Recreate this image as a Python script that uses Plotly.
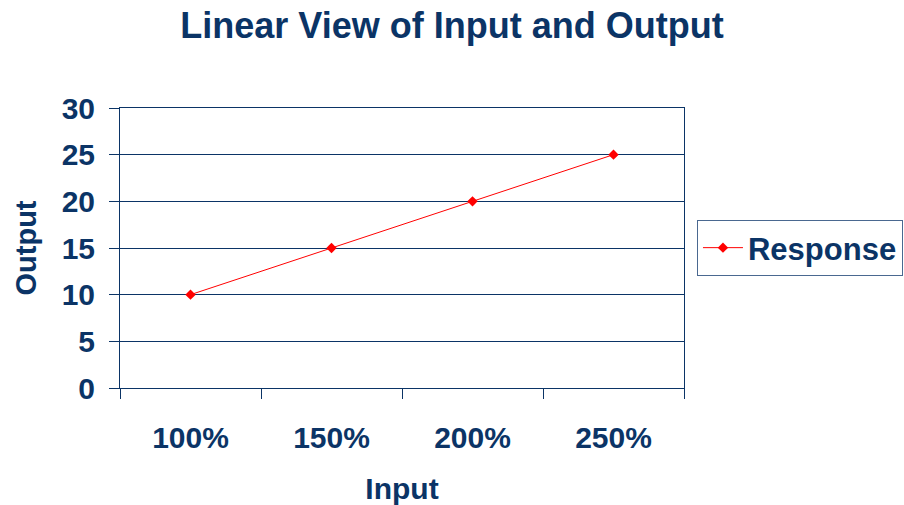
import plotly.graph_objects as go

# Input levels and the measured output at each level
inputs = ["100%", "150%", "200%", "250%"]
output = [10, 15, 20, 25]
y_ticks = [0, 5, 10, 15, 20, 25, 30]

NAVY = "#0b3466"
FONT = "Liberation Sans, Arial, sans-serif"

fig = go.Figure(
    go.Scatter(
        x=inputs,
        y=output,
        mode="lines+markers",
        name="<b>Response</b>",
        line=dict(color="#ff0000", width=1),
        marker=dict(symbol="diamond", size=8, color="#ff0000"),
    )
)

fig.update_layout(
    width=904,
    height=505,
    margin=dict(l=120, r=220, t=108, b=117, autoexpand=False),
    paper_bgcolor="white",
    plot_bgcolor="white",
    font=dict(family=FONT, color=NAVY),
    title=dict(
        text="<b>Linear View of Input and Output</b>",
        x=0.5,
        xref="container",
        xanchor="center",
        y=0.95,
        yref="container",
        yanchor="middle",
        font=dict(size=36, color=NAVY, family=FONT),
    ),
    showlegend=True,
    legend=dict(
        x=1.023,
        xanchor="left",
        y=0.5,
        yanchor="middle",
        bordercolor="#4a6890",
        borderwidth=1,
        font=dict(size=31, color=NAVY, family=FONT),
        itemwidth=40,
    ),
)

fig.update_xaxes(
    type="category",
    range=[-0.5, 3.5],
    tickson="boundaries",
    ticks="outside",
    ticklen=10,
    tickcolor=NAVY,
    showline=True,
    linecolor=NAVY,
    linewidth=1,
    mirror=True,
    showgrid=False,
    automargin=False,
    tickfont=dict(size=30, color=NAVY, family=FONT),
    ticklabelstandoff=23,
    title=dict(text="<b>Input</b>", font=dict(size=30, color=NAVY, family=FONT), standoff=26),
    tickprefix="<b>",
    ticksuffix="</b>",
)

fig.update_yaxes(
    range=[0, 30],
    tickvals=y_ticks,
    ticktext=[f"<b>{v}</b>" for v in y_ticks],
    ticks="outside",
    ticklen=10,
    tickcolor=NAVY,
    showline=True,
    linecolor=NAVY,
    linewidth=1,
    mirror=True,
    showgrid=True,
    gridcolor=NAVY,
    gridwidth=1,
    zeroline=False,
    automargin=False,
    tickfont=dict(size=30, color=NAVY, family=FONT),
    ticklabelstandoff=8,
    title=dict(text="<b>Output</b>", font=dict(size=29, color=NAVY, family=FONT), standoff=16),
)

fig.write_html("out.html")
